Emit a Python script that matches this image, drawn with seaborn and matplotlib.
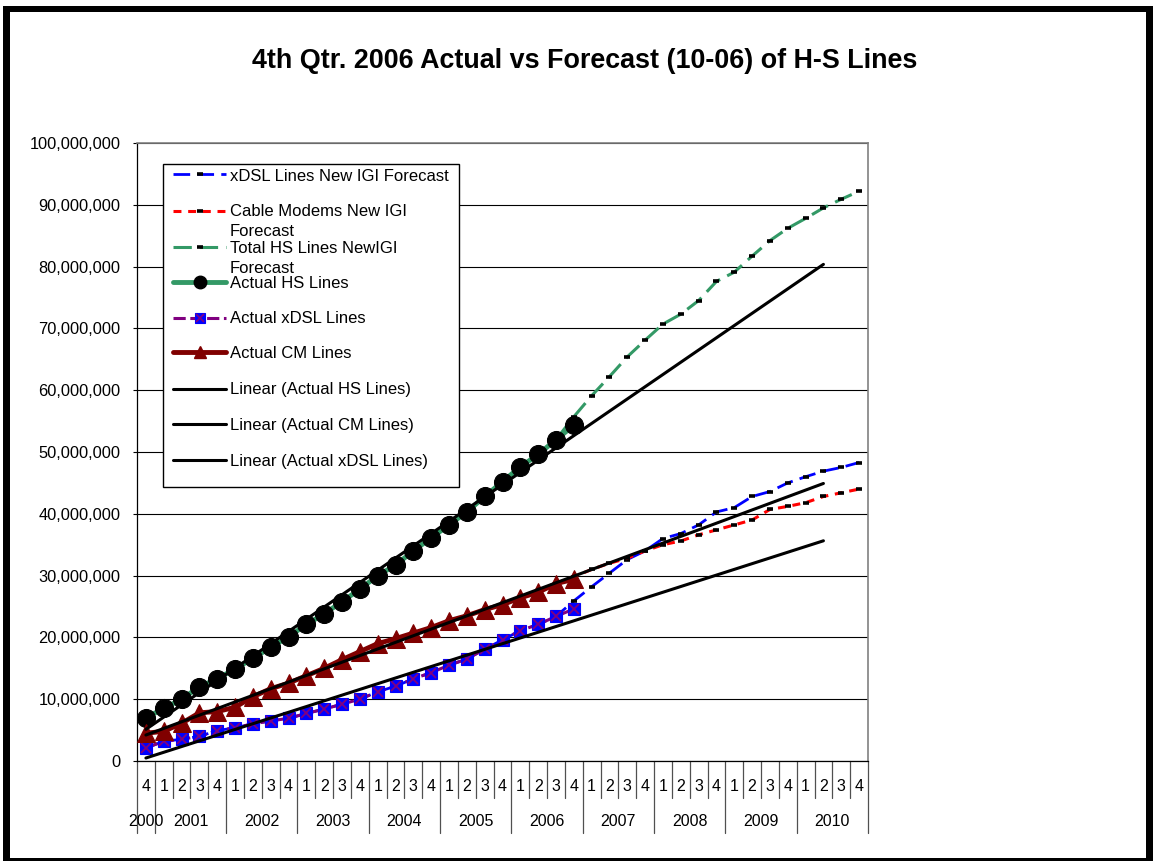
import numpy as np
import matplotlib
matplotlib.use("Agg")
import matplotlib.pyplot as plt
import seaborn as sns
from matplotlib.lines import Line2D
from matplotlib.patches import Rectangle
from matplotlib.ticker import FuncFormatter, MultipleLocator

# ---- category axis: quarters grouped by year ----
quarters = ["4"] + ["1", "2", "3", "4"] * 10
year_labels = ["2000", "2001", "2002", "2003", "2004", "2005",
               "2006", "2007", "2008", "2009", "2010"]
year_quarter_counts = [1, 4, 4, 4, 4, 4, 4, 4, 4, 4, 4]

# ---- actual lines, millions (2000 Q4 .. 2006 Q4) ----
hs_actual = [7.0, 8.5, 10.0, 12.0, 13.3, 14.9, 16.6, 18.4, 20.1, 22.1,
             23.8, 25.8, 27.8, 30.0, 31.7, 34.0, 36.1, 38.2, 40.3, 42.8,
             45.2, 47.6, 49.6, 52.0, 54.3]
xdsl_actual = [2.1, 3.2, 3.5, 4.0, 4.9, 5.4, 6.0, 6.5, 6.9, 7.7,
               8.4, 9.2, 10.0, 11.2, 12.1, 13.3, 14.3, 15.5, 16.5, 18.1,
               19.6, 21.1, 22.1, 23.4, 24.6]
cm_actual = [4.5, 4.8, 6.1, 7.8, 8.0, 8.7, 10.4, 11.7, 12.6, 13.8,
             15.0, 16.4, 17.7, 19.0, 19.8, 20.7, 21.6, 22.7, 23.5, 24.5,
             25.3, 26.4, 27.3, 28.7, 29.4]

# ---- New IGI forecast (10-06), millions; history through 2006 Q3 ----
xdsl_forecast = xdsl_actual[:24] + [25.9, 28.2, 30.4, 32.6, 34.0, 36.0, 36.8,
                                    38.2, 40.3, 41.0, 42.8, 43.6, 45.0, 46.0,
                                    46.9, 47.5, 48.3]
cm_forecast = cm_actual[:24] + [29.8, 31.0, 32.0, 32.8, 34.0, 35.0, 35.6,
                                36.6, 37.4, 38.2, 39.0, 40.7, 41.2, 41.8,
                                42.8, 43.4, 44.0]
hs_forecast = hs_actual[:24] + [55.7, 59.1, 62.2, 65.4, 68.1, 70.7, 72.3,
                                74.5, 77.6, 79.1, 81.7, 84.2, 86.2, 87.8,
                                89.5, 90.9, 92.2]

trend_forward = 14  # periods projected past the last actual

title = "4th Qtr. 2006 Actual vs Forecast (10-06) of H-S Lines"
legend_rows = [
    ["xDSL Lines New IGI Forecast"],
    ["Cable Modems New IGI", "Forecast"],
    ["Total HS Lines NewIGI", "Forecast"],
    ["Actual HS Lines"],
    ["Actual xDSL Lines"],
    ["Actual CM Lines"],
    ["Linear (Actual HS Lines)"],
    ["Linear (Actual CM Lines)"],
    ["Linear (Actual xDSL Lines)"],
]

BLUE, RED, GREEN = "#0000FF", "#FF0000", "#339966"
PURPLE, MAROON = "#800080", "#800000"

sns.set_style("white")
plt.rcParams["font.family"] = ["Liberation Sans", "DejaVu Sans"]

W, H = 1156, 861
fig = plt.figure(figsize=(W / 100, H / 100), dpi=100)
fig.patch.set_facecolor("white")


def fx(x):
    return x / W


def fy(y):
    return 1 - y / H


ax = fig.add_axes([fx(137), fy(761), (868 - 137) / W, (761 - 143) / H])

M = 1e6
x_all = np.arange(len(quarters))
x_act = x_all[:len(hs_actual)]

dash_mark = dict(marker="_", markersize=5, markeredgewidth=2.6,
                 markeredgecolor="black")
long_dash = (0, (6, 2.6))
short_dash = (0, (2.6, 2.2))

# forecasts
sns.lineplot(x=x_all, y=np.array(xdsl_forecast) * M, ax=ax, color=BLUE,
             linewidth=2.0, linestyle=long_dash, zorder=2, **dash_mark)
sns.lineplot(x=x_all, y=np.array(cm_forecast) * M, ax=ax, color=RED,
             linewidth=2.2, linestyle=short_dash, zorder=2, **dash_mark)
sns.lineplot(x=x_all, y=np.array(hs_forecast) * M, ax=ax, color=GREEN,
             linewidth=2.2, linestyle=long_dash, zorder=2, **dash_mark)

# actuals
sns.lineplot(x=x_act, y=np.array(hs_actual) * M, ax=ax, color=GREEN,
             linewidth=3.5, marker="o", markersize=13,
             markerfacecolor="black", markeredgecolor="black", zorder=3)
sns.lineplot(x=x_act, y=np.array(xdsl_actual) * M, ax=ax, color=PURPLE,
             linewidth=2.2, linestyle=(0, (4, 1.5)), marker="s", markersize=8,
             markerfacecolor=BLUE, markeredgecolor=BLUE,
             markeredgewidth=0.8, zorder=3)
sns.lineplot(x=x_act, y=np.array(xdsl_actual) * M, ax=ax, color=PURPLE,
             linestyle="", marker="x", markersize=7,
             markeredgecolor=PURPLE, markeredgewidth=1.3, zorder=3)
sns.lineplot(x=x_act, y=np.array(cm_actual) * M, ax=ax, color=MAROON,
             linewidth=3.5, marker="^", markersize=13,
             markerfacecolor=MAROON, markeredgecolor=MAROON, zorder=3)

# linear trends of the actuals, projected forward
x_trend = np.arange(len(hs_actual) + trend_forward)
for series in (hs_actual, cm_actual, xdsl_actual):
    slope, icpt = np.polyfit(x_act, np.array(series) * M, 1)
    sns.lineplot(x=x_trend, y=icpt + slope * x_trend, ax=ax,
                 color="black", linewidth=2.2, zorder=4)

# axes styling
ax.set_xlim(-0.5, len(quarters) - 0.5)
ax.set_ylim(0, 100 * M)
ax.yaxis.set_major_locator(MultipleLocator(10 * M))
ax.yaxis.set_major_formatter(FuncFormatter(lambda v, p: f"{v:,.0f}"))
ax.set_xticks([])
ax.set_xlabel("")
ax.set_ylabel("")
ax.tick_params(axis="y", left=True, direction="out", length=3, width=0.8,
               pad=9, labelsize=11.8, colors="black")
ax.grid(axis="y", color="black", linewidth=0.8)
ax.set_axisbelow(True)
for side in ("left", "bottom"):
    ax.spines[side].set_color("black")
    ax.spines[side].set_linewidth(0.9)
for side in ("top", "right"):
    ax.spines[side].set_color("#808080")
    ax.spines[side].set_linewidth(1.2)

# two-level category labels
xt = ax.get_xaxis_transform()
q_row, y_row = -0.0416, -0.0982
q_sep, y_sep = -0.0599, -0.1165
for i, q in enumerate(quarters):
    ax.text(i, q_row, q, transform=xt, ha="center", va="center",
            fontsize=11.5, color="black")
year_bounds = np.concatenate([[0], np.cumsum(year_quarter_counts)]) - 0.5
start = 0
for label, n in zip(year_labels, year_quarter_counts):
    ax.text(start + (n - 1) / 2, y_row, label, transform=xt, ha="center",
            va="center", fontsize=11.5, color="black")
    start += n
for b in np.arange(-0.5, len(quarters)):
    low = y_sep if np.any(np.isclose(year_bounds, b)) else q_sep
    ax.plot([b, b], [0, low], transform=xt, color="#505050", lw=0.9,
            clip_on=False, zorder=1)

# title
fig.text(fx(584.5), fy(61), title, ha="center", va="center", fontsize=19.4,
         fontweight="bold", color="black")

# legend box
lx0, ly0, lx1, ly1 = 163, 164, 459, 487
fig.add_artist(Rectangle((fx(lx0), fy(ly1)), fx(lx1) - fx(lx0),
                         fy(ly0) - fy(ly1), transform=fig.transFigure,
                         facecolor="white", edgecolor="black", lw=1.0,
                         zorder=5))
handle_y = [174, 211, 246.7, 281.7, 317.7, 352.3, 388.7, 424.3, 460]
text_y = [176.7, 211.7, 248.3, 283.3, 318.3, 354, 389.3, 425.3, 461.7]
hx0, hx1, tx = 173, 226, 230
hmid = (hx0 + hx1) / 2
handle_styles = [
    dict(color=BLUE, lw=2.0, ls=long_dash),
    dict(color=RED, lw=2.2, ls=short_dash),
    dict(color=GREEN, lw=2.2, ls=long_dash),
    dict(color=GREEN, lw=3.5),
    dict(color=PURPLE, lw=2.2, ls=(0, (4, 1.5))),
    dict(color=MAROON, lw=3.5),
    dict(color="black", lw=2.2),
    dict(color="black", lw=2.2),
    dict(color="black", lw=2.2),
]
handle_marks = [
    [dict(marker="_", ms=5, mew=2.6, mec="black")],
    [dict(marker="_", ms=5, mew=2.6, mec="black")],
    [dict(marker="_", ms=5, mew=2.6, mec="black")],
    [dict(marker="o", ms=9, mfc="black", mec="black")],
    [dict(marker="s", ms=7, mfc=BLUE, mec=BLUE, mew=0.8),
     dict(marker="x", ms=6, mec=PURPLE, mew=1.2)],
    [dict(marker="^", ms=9, mfc=MAROON, mec=MAROON)],
    [], [], [],
]
for hy, ty, rows, st, marks in zip(handle_y, text_y, legend_rows,
                                   handle_styles, handle_marks):
    fig.add_artist(Line2D([fx(hx0), fx(hx1)], [fy(hy), fy(hy)],
                          transform=fig.transFigure, zorder=6, **st))
    for mk in marks:
        fig.add_artist(Line2D([fx(hmid)], [fy(hy)], transform=fig.transFigure,
                              ls="", zorder=7, **mk))
    for k, line in enumerate(rows):
        fig.text(fx(tx), fy(ty + 20 * k), line, ha="left", va="center",
                 fontsize=12, color="black", zorder=8)

# outer frame
frame = [(3, 6, 10, 861), (3, 6, 1153, 12), (3, 858, 1153, 861),
         (1146, 6, 1153, 861)]
for x0, y0, x1, y1 in frame:
    fig.add_artist(Rectangle((fx(x0), fy(y1)), fx(x1) - fx(x0),
                             fy(y0) - fy(y1), transform=fig.transFigure,
                             facecolor="black", edgecolor="none", zorder=10))

fig.savefig("out.png", dpi=100, facecolor="white")
